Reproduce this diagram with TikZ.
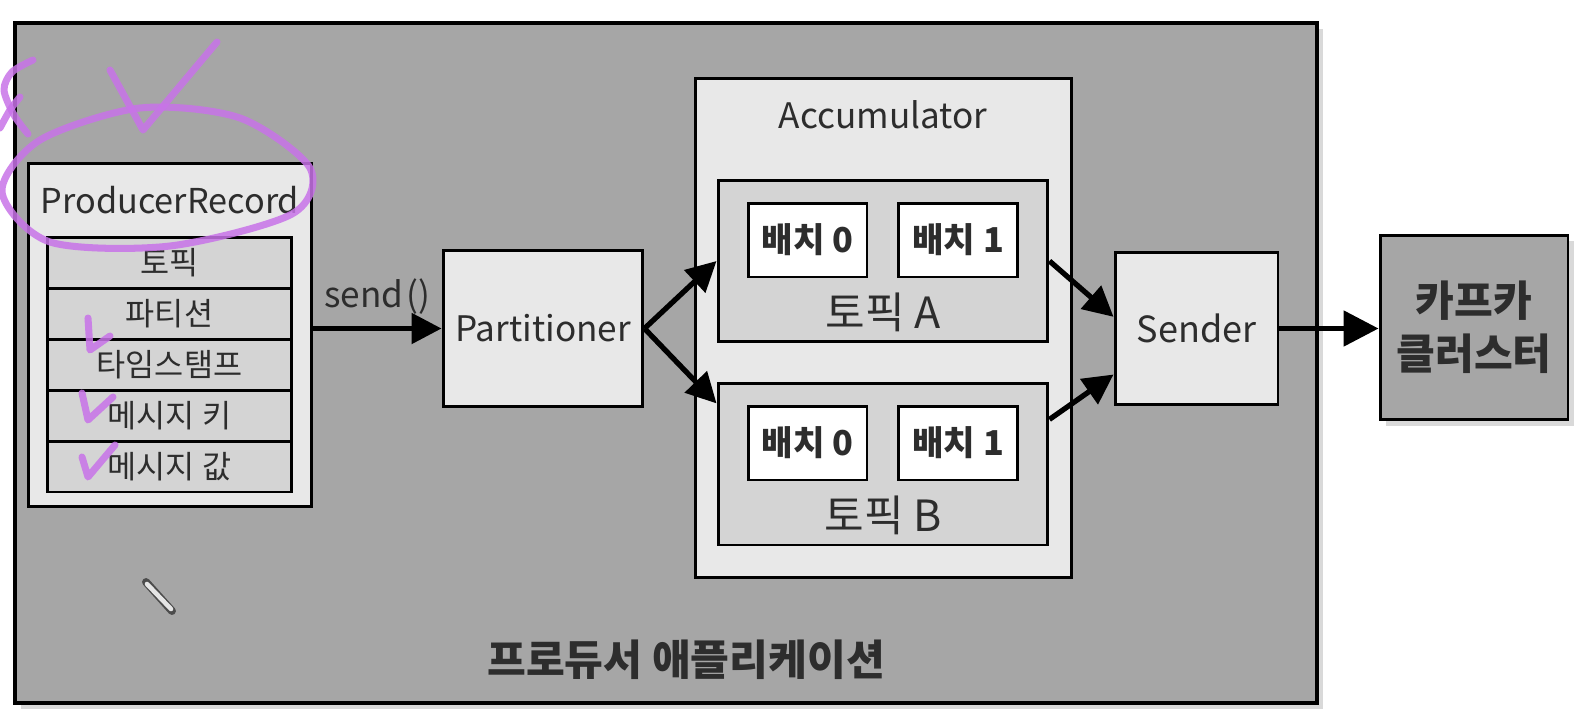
\documentclass[tikz,border=0pt]{standalone}
\usepackage{fontspec}
\setmainfont{Noto Sans CJK KR}
\usetikzlibrary{arrows.meta,shadows}
\definecolor{AppClr}{RGB}{166,166,166}
\definecolor{BoxClr}{RGB}{232,232,232}
\definecolor{FieldClr}{RGB}{212,212,212}
\definecolor{TextClr}{RGB}{45,45,45}
\definecolor{PenClr}{RGB}{200,115,232}

\begin{document}
\begin{tikzpicture}[x=0.02cm,y=-0.02cm,
  box/.style 2 args={draw=black,line width=1.7pt,inner sep=0pt,text=TextClr,minimum width=#1,minimum height=#2},
  txt/.style={text=TextClr,font=\fontsize{20}{24}\selectfont},
  batch/.style={box={2.38cm}{1.48cm},fill=white,font=\bfseries\fontsize{19.5}{22}\selectfont},
  flow/.style={line width=3pt,-{Triangle[length=0.6cm,width=0.6cm]}},
  pen/.style={draw=PenClr,line width=4pt,line cap=round,line join=round,opacity=.85},
  shade/.style={drop shadow={shadow xshift=.12cm,shadow yshift=-.12cm,opacity=.3}}]
\useasboundingbox (0,0) rectangle (1596,724);

% producer application
\node[box={26.04cm}{13.6cm},fill=AppClr,line width=2.2pt,shade] (app) at (666,363) {};
\node[text=TextClr,font=\bfseries\fontsize{24}{28}\selectfont] (appname) at (686,660) {프로듀서 애플리케이션};

% record
\node[box={5.68cm}{6.88cm},fill=BoxClr] (rec) at (170,335) {};
\node[txt,font=\fontsize{19.5}{24}\selectfont] (recname) at (170,200) {ProducerRecord};
\foreach \f [count=\i] in {토픽,파티션,타임스탬프,메시지 키,메시지 값}
  \node[box={4.9cm}{1.02cm},fill=FieldClr,font=\fontsize{18}{20}\selectfont] (f\i) at (169.5,{211.5+51*\i}) {\f};

\node[box={4cm}{3.14cm},fill=BoxClr,txt] (part) at (543,328.5) {Partitioner};
\draw[flow] (rec.east |- part) -- node[txt,above=3pt] (sendname) {send\hspace{2pt}()} (part);

% accumulator
\node[box={7.54cm}{10cm},fill=BoxClr] (acc) at (883.5,328) {};
\node[txt] (accname) at (883,115) {Accumulator};
\foreach \t/\y in {A/180,B/383} {
  \node[box={6.6cm}{3.24cm},fill=FieldClr] (topic\t) at (883,{\y+81}) {};
  \node[text=TextClr,font=\fontsize{24.5}{28}\selectfont] (lbl\t) at (883,{\y+132}) {토픽 \t};
  \node[batch] (batch\t0) at (807.5,{\y+60}) {배치 0};
  \node[batch] (batch\t1) at (958,{\y+60}) {배치 1};
}
\draw[flow] (part.east) -- (topicA.west);
\draw[flow] (part.east) -- (topicB.160);

% sender
\node[box={3.26cm}{3.06cm},fill=BoxClr,txt,font=\fontsize{20.5}{24}\selectfont] (send) at (1196.5,328.5) {Sender};
\draw[flow] (topicA.east) -- (send.172);
\draw[flow] (topicB.15) -- (send.209);

\node[box={3.76cm}{3.7cm},fill=AppClr,shade,align=center,font=\bfseries\fontsize{24}{30}\selectfont] (kafka) at (1474,327.5) {카프카\\클러스터};
\draw[flow,-{Triangle[length=0.7cm,width=0.7cm]}] (send.east) -- (send.east -| kafka.west);

% pen marks
\draw[pen] plot[smooth cycle] coordinates {(310,168) (240,118) (140,108) (40,140) (2,192) (50,242) (170,246) (292,214)};
\draw[pen] (110,70) -- (143,130) -- (217,42);
\draw[pen] plot[smooth] coordinates {(33,60) (12,72) (4,90) (14,115) (28,134)};
\draw[pen] plot[smooth] coordinates {(0,128) (10,110) (20,97)};
\draw[pen] (88,318) -- (90,350) -- (110,336);
\draw[pen] (82,393) -- (88,420) -- (113,397);
\draw[pen] (82,457) -- (88,477) -- (115,445);

% cursor
\draw[line width=4.5pt,line cap=round,black!70] (146,582) -- (172,611);
\draw[line width=2.6pt,line cap=round,black!10] (147,584) -- (171,609);
\end{tikzpicture}
\end{document}
